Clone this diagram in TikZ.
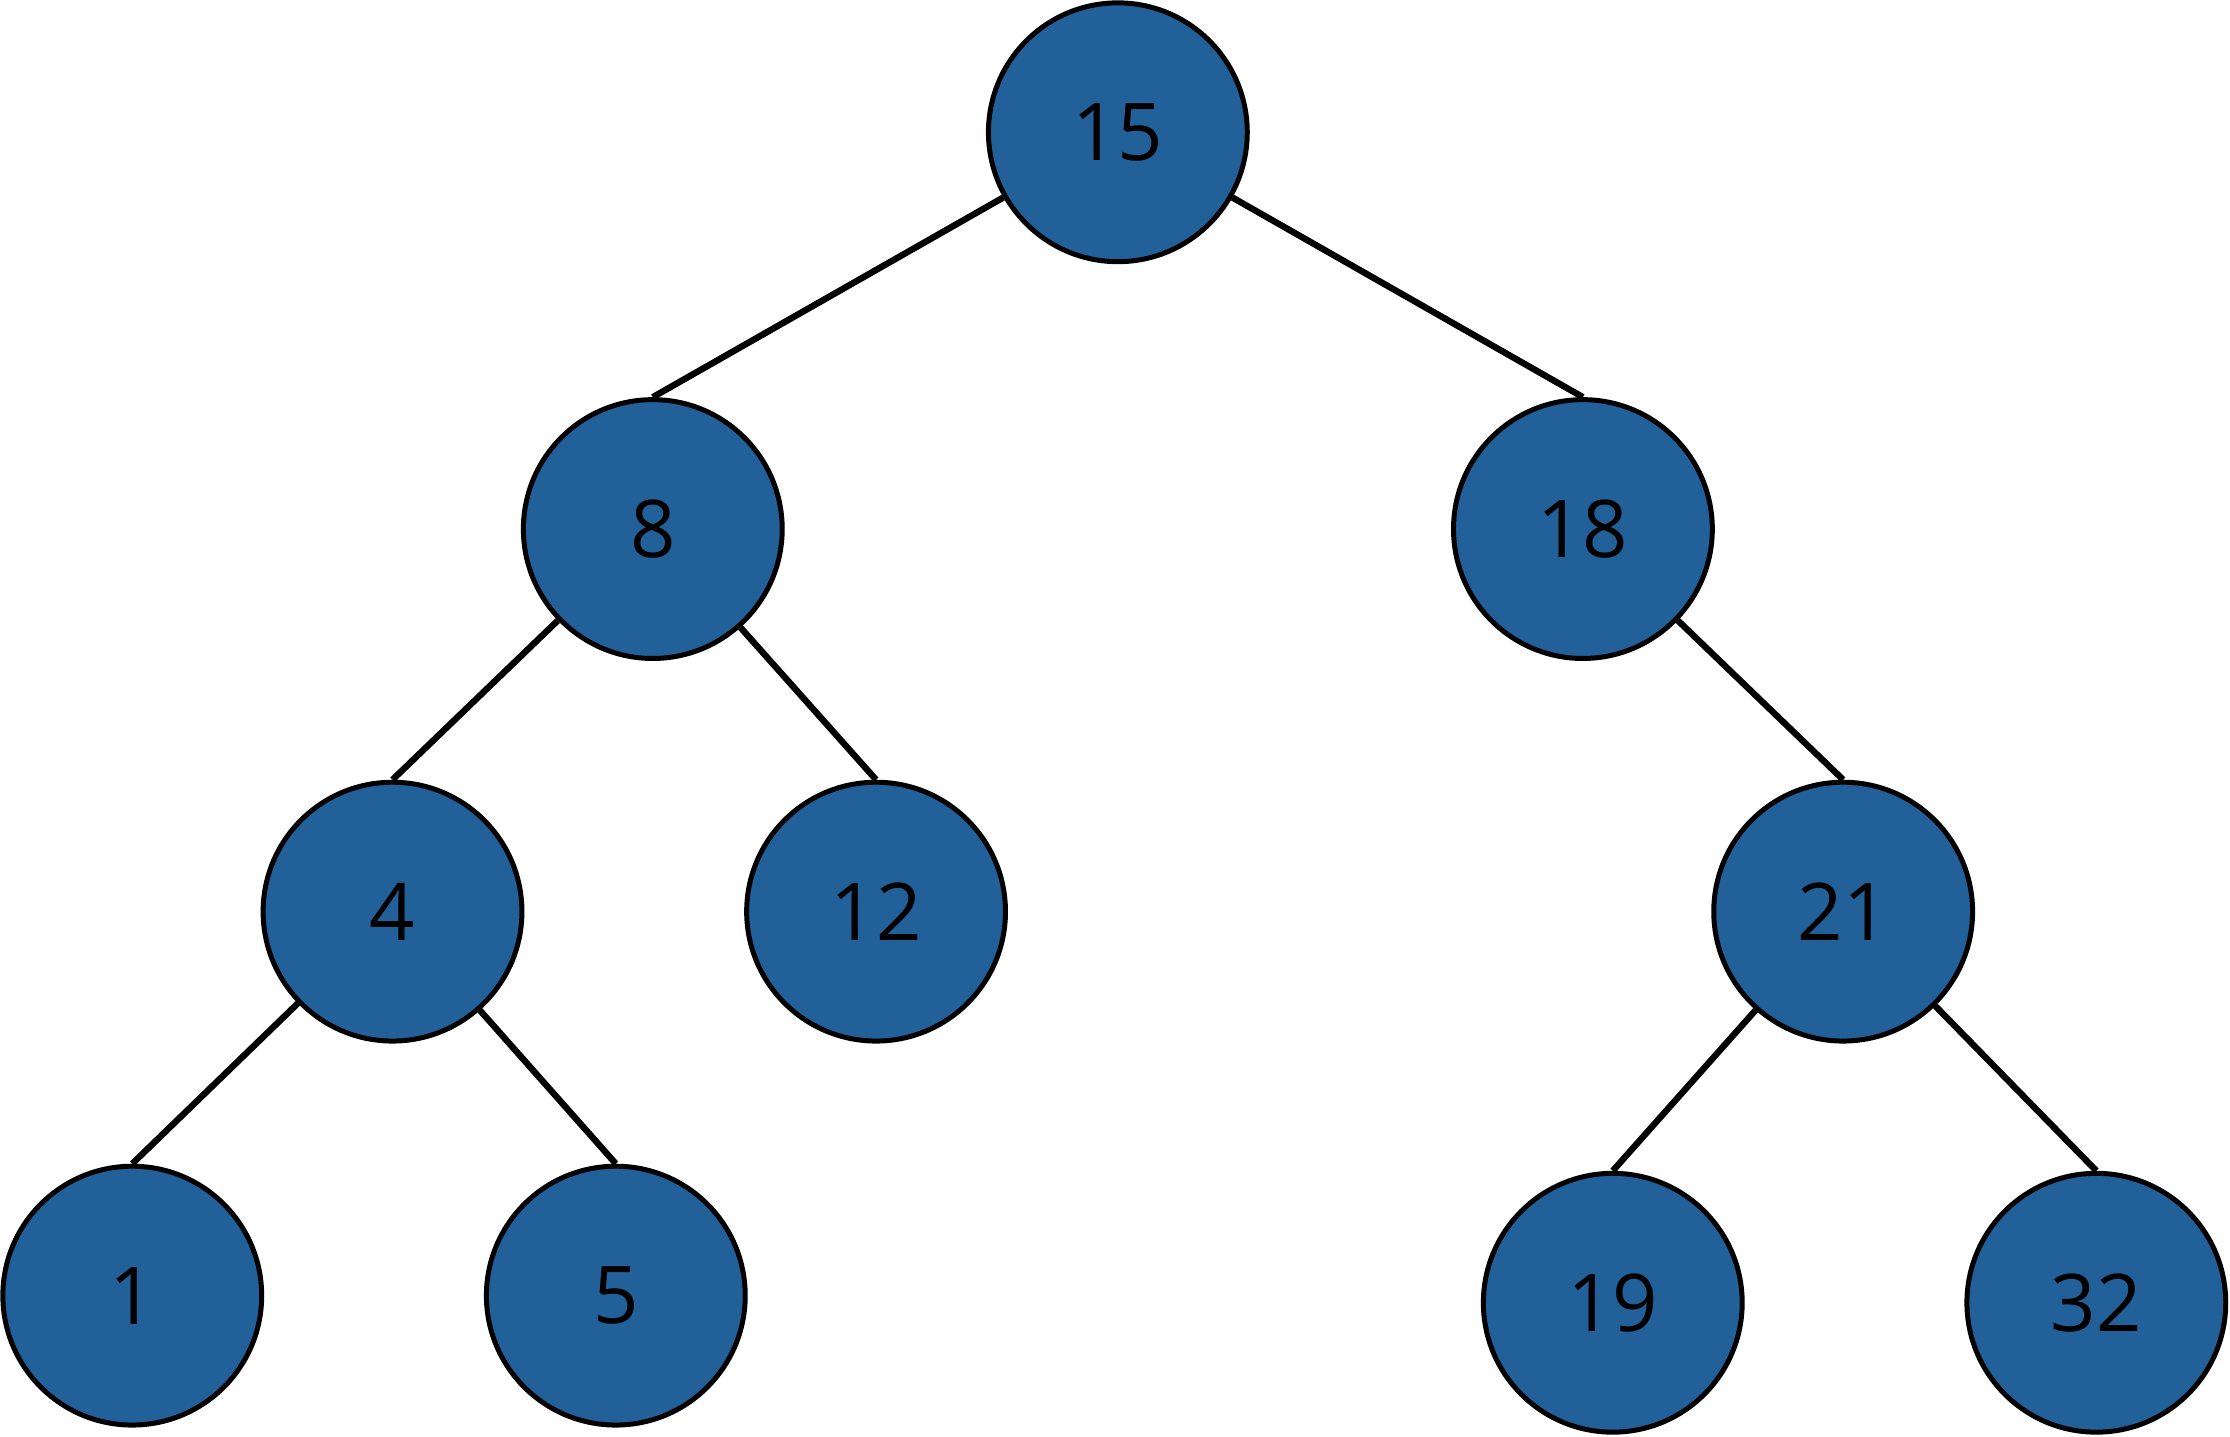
\documentclass[tikz,border=0pt]{standalone}
\usepackage{fontspec}
\setmainfont{Open Sans}
\begin{document}
\begin{tikzpicture}[x=1pt,y=-1pt,
  nd/.style={circle,draw=black,line width=3.5pt,fill={rgb,255:red,34;green,96;blue,154},minimum size=182pt,inner sep=0pt,font=\fontsize{56}{60}\selectfont},
  ed/.style={line width=4.5pt}]
\useasboundingbox (0,0) rectangle (1568,1010);
\node[nd] (n15) at (786,93) {15};
\node[nd] (n8) at (459,372) {8};
\node[nd] (n18) at (1113,372) {18};
\node[nd] (n4) at (276,641) {4};
\node[nd] (n12) at (616,641) {12};
\node[nd] (n21) at (1296,641) {21};
\node[nd] (n1) at (93,911) {1};
\node[nd] (n5) at (433,911) {5};
\node[nd] (n19) at (1134,916) {19};
\node[nd] (n32) at (1474,916) {32};
\foreach \a/\b in {n15/n8,n15/n18,n8/n4,n8/n12,n18/n21,n4/n1,n4/n5,n21/n19,n21/n32}
  \draw[ed] (\a) -- (\b.north);
\end{tikzpicture}
\end{document}
